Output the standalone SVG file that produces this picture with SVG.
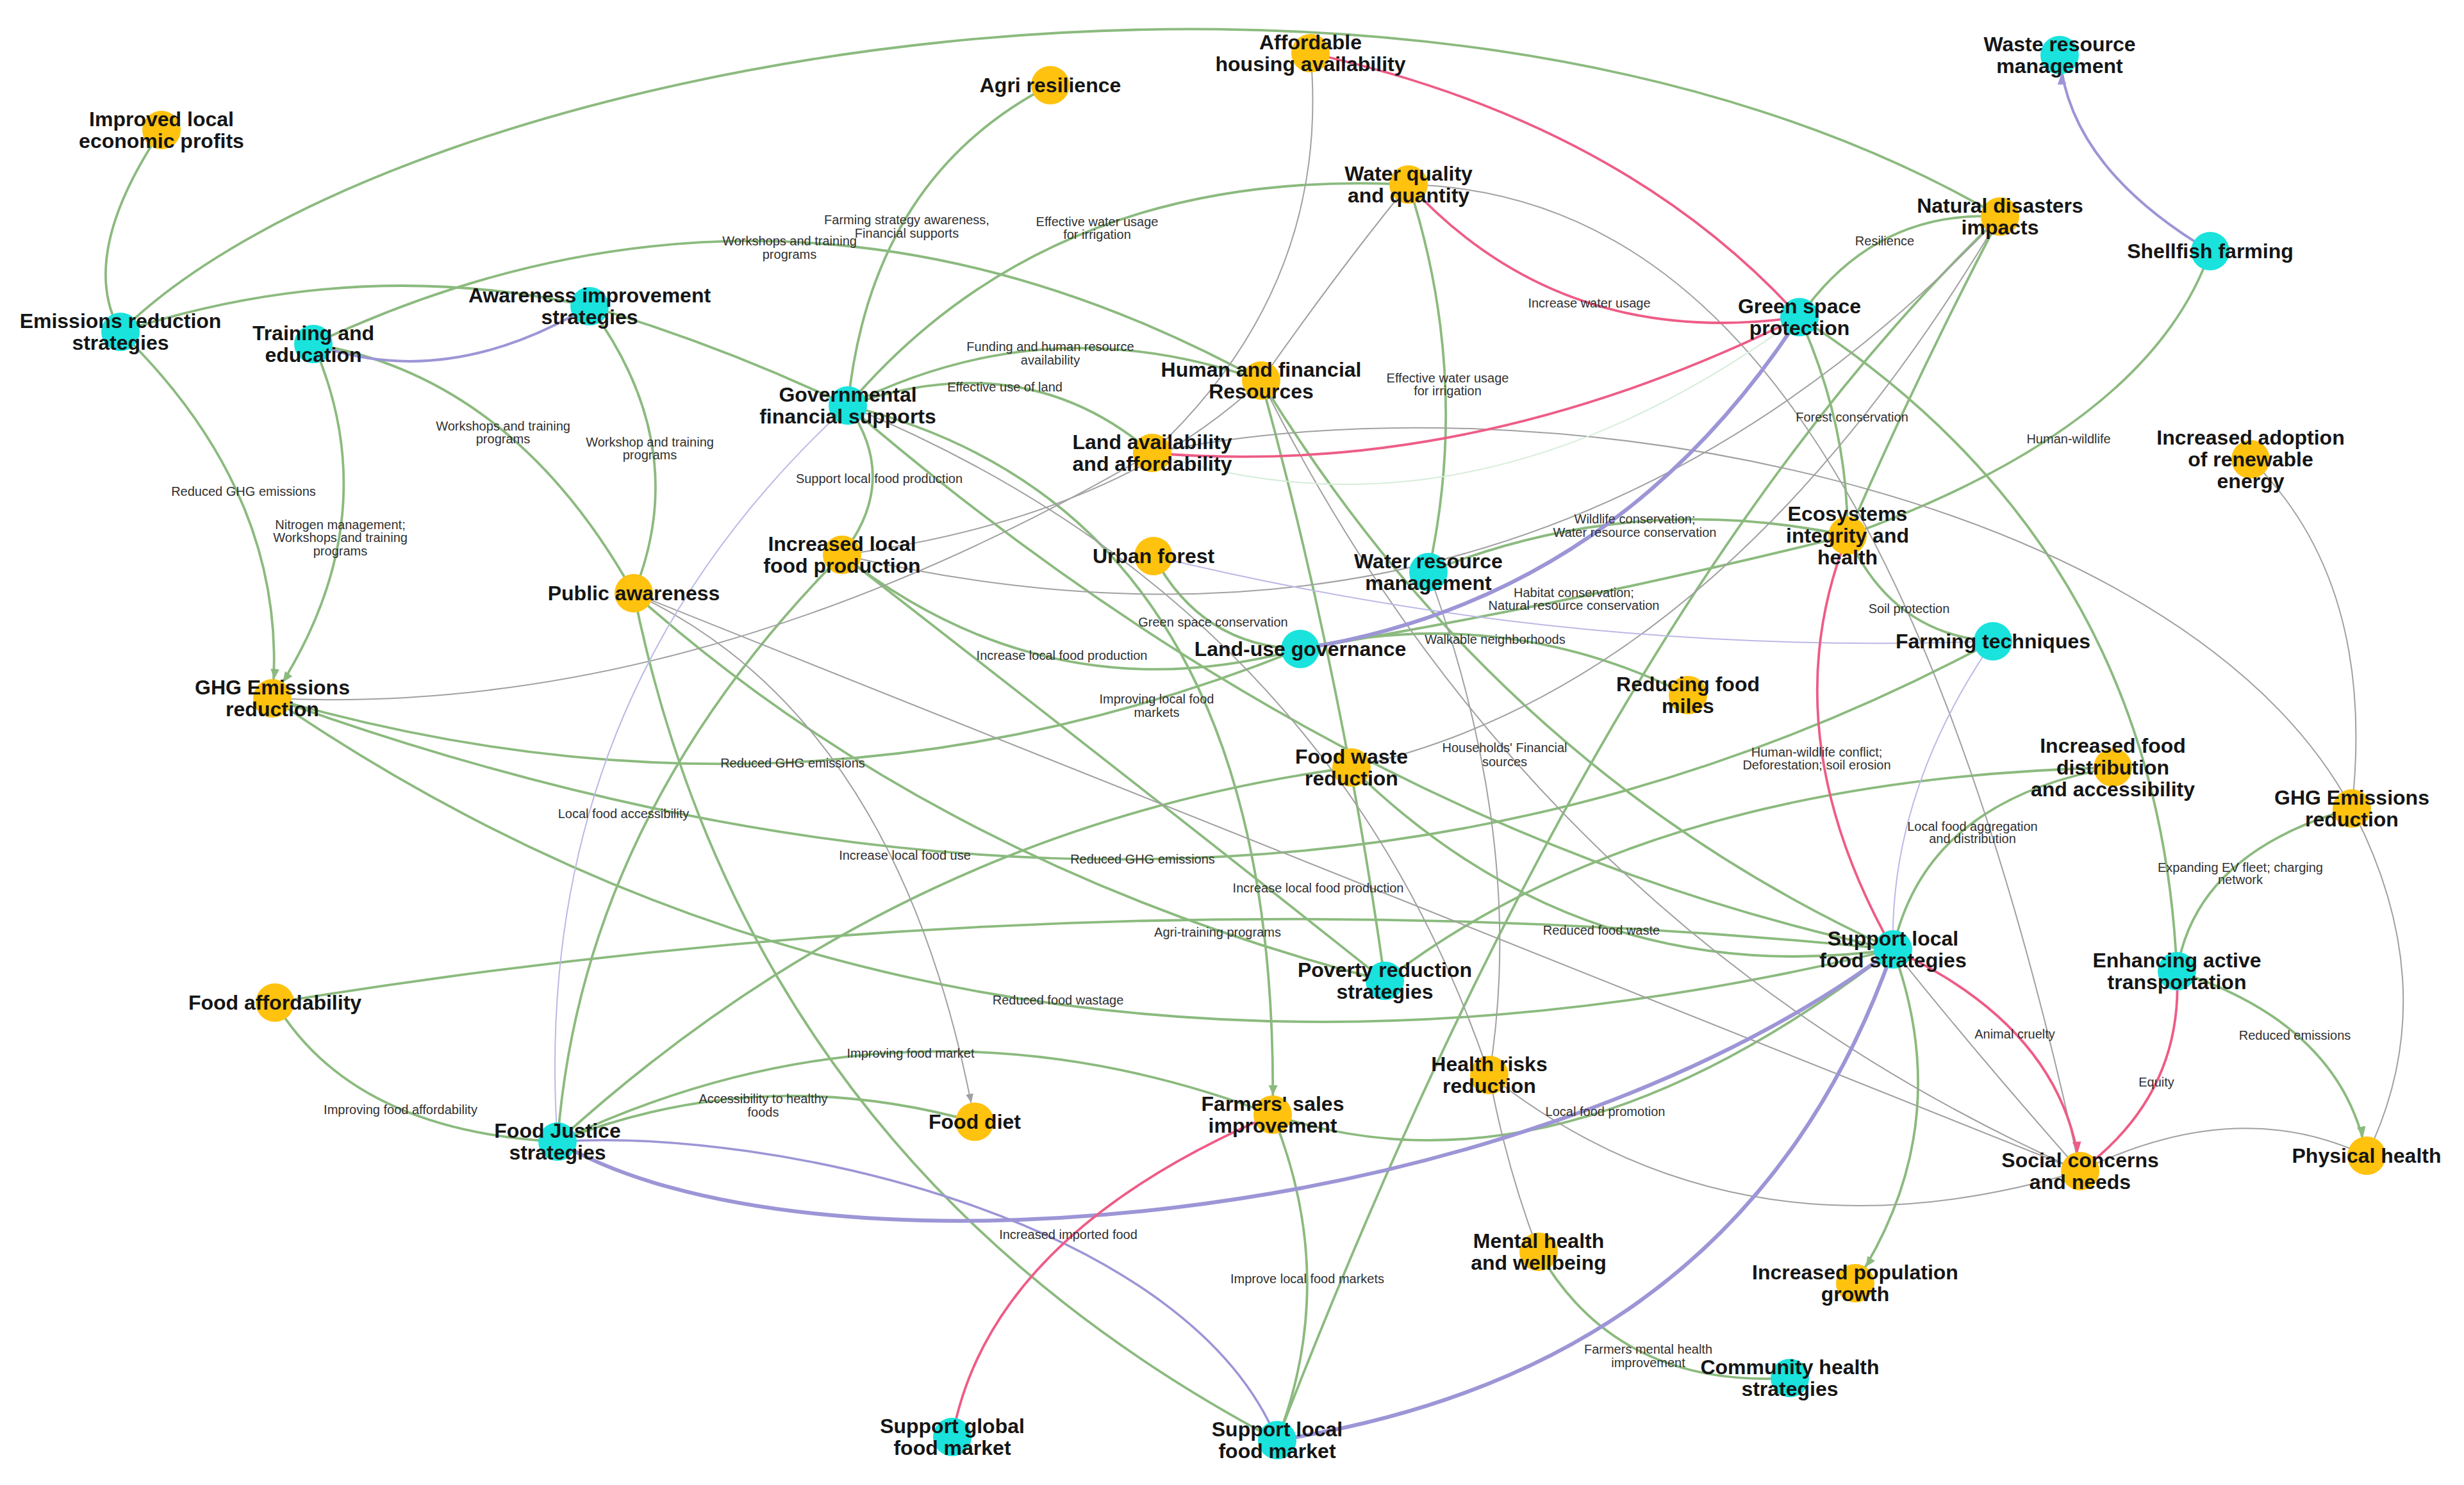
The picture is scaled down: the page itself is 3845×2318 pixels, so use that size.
<svg xmlns="http://www.w3.org/2000/svg" width="3845" height="2318" viewBox="0 0 3845 2318">
<defs>
<style>
.g{stroke:#8BBA7E;stroke-width:3.8;fill:none}
.y{stroke:#a0a0a0;stroke-width:2;fill:none}
.p{stroke:#EE5C86;stroke-width:3.8;fill:none}
.u{stroke:#9C95D6;fill:none}
.ul{stroke:#bcb8e6;stroke-width:2;fill:none}
.o{fill:#FFC20E}
.c{fill:#19E3DC}
.lbl{font-family:"Liberation Sans",Arial,sans-serif;font-weight:bold;font-size:32px;fill:#151515;text-anchor:middle}
.el{font-family:"Liberation Sans",Arial,sans-serif;font-size:20px;fill:#303030;text-anchor:middle}
</style>
<marker id="ag" markerUnits="userSpaceOnUse" markerWidth="60" markerHeight="20" refX="46" refY="7" orient="auto"><path d="M0,0 L16,7 L0,14 z" fill="#8BBA7E"/></marker>
<marker id="ay" markerUnits="userSpaceOnUse" markerWidth="60" markerHeight="20" refX="44" refY="6" orient="auto"><path d="M0,0 L14,6 L0,12 z" fill="#a0a0a0"/></marker>
<marker id="ap" markerUnits="userSpaceOnUse" markerWidth="60" markerHeight="20" refX="46" refY="7" orient="auto"><path d="M0,0 L16,7 L0,14 z" fill="#EE5C86"/></marker>
<marker id="au" markerUnits="userSpaceOnUse" markerWidth="60" markerHeight="20" refX="46" refY="7" orient="auto"><path d="M0,0 L16,7 L0,14 z" fill="#9C95D6"/></marker>
</defs>
<rect width="3845" height="2318" fill="#ffffff"/>
<g id="connectors">
<!-- green -->
<path class="g" d="M188,518 Q120,400 252,203"/>
<path class="g" d="M188,518 C620,90 2200,-200 3121,338"/>
<path class="g" d="M188,518 Q554,398 920,478"/>
<path class="g" d="M188,518 Q453,776 425,1090" marker-end="url(#ag)"/>
<path class="g" d="M489,537 Q1228,189 1968,594"/>
<path class="g" d="M489,537 Q609,813 425,1090" marker-end="url(#ag)"/>
<path class="g" d="M489,537 Q801,589 989,926"/>
<path class="g" d="M920,478 Q1082,698 989,926"/>
<path class="g" d="M920,478 Q1128,540 1323,633"/>
<path class="g" d="M1639,133 Q1359,277 1323,633"/>
<path class="g" d="M1323,633 Q1640,260 2198,288"/>
<path class="g" d="M1323,633 Q1634,476 1968,594"/>
<path class="g" d="M1323,633 Q1600,536 1798,707"/>
<path class="g" d="M1323,633 Q1405,750 1314,866"/>
<path class="g" d="M2198,288 Q2296,590 2229,893"/>
<path class="g" d="M3121,338 Q2925,327 2808,495"/>
<path class="g" d="M3449,392 Q3354,666 2883,836"/>
<path class="g" d="M2808,495 Q2884,664 2883,836"/>
<path class="g" d="M2808,495 Q3368,855 3397,1516"/>
<path class="g" d="M2883,836 Q2953,991 3110,1001"/>
<path class="g" d="M2029,1013 Q2444,945 2883,836"/>
<path class="g" d="M2229,893 Q2544,765 2883,836"/>
<path class="g" d="M2029,1013 Q2348,941 2634,1085"/>
<path class="g" d="M1800,868 Q1875,1009 2029,1013"/>
<path class="g" d="M1314,866 Q1638,1120 2029,1013"/>
<path class="g" d="M425,1090 Q1247,1328 2029,1013"/>
<path class="g" d="M1314,866 Q908,1276 870,1782"/>
<path class="g" d="M989,926 Q1169,1813 1993,2248"/>
<path class="g" d="M989,926 Q1465,1351 2161,1531"/>
<path class="g" d="M3121,338 Q2503,927 1993,2248"/>
<path class="g" d="M3121,338 Q2988,593 2883,836"/>
<path class="g" d="M2109,1198 Q2468,1550 2954,1482"/>
<path class="g" d="M870,1782 Q1410,1290 2109,1198"/>
<path class="g" d="M3110,1001 Q1932,1634 425,1090"/>
<path class="g" d="M3297,1198 Q3004,1250 2954,1482"/>
<path class="g" d="M3297,1198 Q2571,1215 2161,1531"/>
<path class="g" d="M429,1565 Q550,1766 870,1782"/>
<path class="g" d="M429,1565 Q1708,1356 2954,1482"/>
<path class="g" d="M425,1090 Q1510,1834 2954,1482"/>
<path class="g" d="M870,1782 Q1184,1657 1521,1751"/>
<path class="g" d="M870,1782 Q1414,1523 1986,1740"/>
<path class="g" d="M1986,1740 Q2090,1996 1993,2248"/>
<path class="g" d="M1986,1740 Q2430,1889 2954,1482"/>
<path class="g" d="M2401,1954 Q2523,2167 2793,2151"/>
<path class="g" d="M2954,1482 Q3055,1757 2895,2003" marker-end="url(#ag)"/>
<path class="g" d="M3670,1262 Q3426,1331 3397,1516"/>
<path class="g" d="M3397,1516 Q3655,1600 3693,1804" marker-end="url(#ag)"/>
<path class="g" d="M1323,633 Q2100,1300 2954,1482"/>
<path class="g" d="M1323,633 Q2000,800 1986,1740" marker-end="url(#ag)"/>
<path class="g" d="M1968,594 Q2339,1202 2954,1482"/>
<path class="g" d="M1968,594 Q2095,1057 2161,1531"/>
<path class="g" d="M1314,866 Q1822,1261 2161,1531"/>
<!-- gray -->
<path class="y" d="M2045,83 Q2078,445 1798,707"/>
<path class="y" d="M2198,288 Q2090,420 1968,594"/>
<path class="y" d="M1314,866 Q1739,810 1968,594"/>
<path class="y" d="M425,1090 Q1088,1121 1798,707"/>
<path class="y" d="M3121,338 Q2685,1072 2109,1198"/>
<path class="y" d="M3121,338 Q2382,1118 1314,866"/>
<path class="y" d="M2198,288 C2650,300 3000,700 3246,1828"/>
<path class="y" d="M1798,707 C2400,580 3400,760 3670,1262"/>
<path class="y" d="M3512,717 Q3709,910 3670,1262"/>
<path class="y" d="M3670,1262 Q3818,1547 3693,1804"/>
<path class="y" d="M3246,1828 Q3490,1708 3693,1804"/>
<path class="y" d="M2324,1678 Q2715,1987 3246,1828"/>
<path class="y" d="M2324,1678 Q2350,1820 2401,1954"/>
<path class="y" d="M2229,893 Q2383,1314 2324,1678"/>
<path class="y" d="M1323,633 Q2076,944 2324,1678"/>
<path class="y" d="M1968,594 Q2393,1449 3246,1828"/>
<path class="y" d="M2954,1482 Q3080,1640 3246,1828"/>
<path class="y" d="M989,926 Q1405,1121 1521,1751" marker-end="url(#ay)"/>
<path class="y" d="M989,926 Q1882,1283 3246,1828"/>
<!-- lavender thin -->
<path class="ul" d="M1323,633 Q823,1092 870,1782"/>
<path class="ul" d="M1800,868 Q2445,1025 3110,1001"/>
<path class="ul" d="M3110,1001 Q2948,1238 2954,1482"/>
<path d="M2808,495 Q2297,869 1798,707" fill="none" stroke="#d6ecd8" stroke-width="2"/>
<!-- purple -->
<path class="u" stroke-width="4" d="M3449,392 Q3228,261 3214,86" marker-end="url(#au)"/>
<path class="u" stroke-width="4" d="M489,537 Q695,612 920,478"/>
<path class="u" stroke-width="6" d="M2808,495 Q2521,936 2029,1013"/>
<path class="u" stroke-width="6" d="M870,1782 C1250,2010 2350,1930 2954,1482"/>
<path class="u" stroke-width="3.5" d="M870,1782 C1200,1760 1850,1900 1993,2248"/>
<path class="u" stroke-width="6" d="M2954,1482 Q2726,2135 1993,2248"/>
<!-- pink -->
<path class="p" d="M2045,83 Q2533,191 2808,495"/>
<path class="p" d="M2198,288 Q2437,548 2808,495"/>
<path class="p" d="M1798,707 Q2297,749 2808,495"/>
<path class="p" d="M2883,836 Q2761,1141 2954,1482"/>
<path class="p" d="M2954,1482 Q3220,1605 3246,1828" marker-end="url(#ap)"/>
<path class="p" d="M3397,1516 Q3408,1708 3246,1828"/>
<path class="p" d="M1986,1740 Q1544,1928 1486,2243"/>
</g>
<g id="edge-labels">
<text class="el" x="1232" y="383">Workshops and training</text><text class="el" x="1232" y="404">programs</text>
<text class="el" x="1415" y="350">Farming strategy awareness,</text><text class="el" x="1415" y="371">Financial supports</text>
<text class="el" x="1712" y="353">Effective water usage</text><text class="el" x="1712" y="373">for irrigation</text>
<text class="el" x="1639" y="548">Funding and human resource</text><text class="el" x="1639" y="569">availability</text>
<text class="el" x="1568" y="611">Effective use of land</text>
<text class="el" x="2480" y="480">Increase water usage</text>
<text class="el" x="2941" y="383">Resilience</text>
<text class="el" x="2259" y="597">Effective water usage</text><text class="el" x="2259" y="617">for irrigation</text>
<text class="el" x="2890" y="658">Forest conservation</text>
<text class="el" x="3228" y="692">Human-wildlife</text>
<text class="el" x="1372" y="754">Support local food production</text>
<text class="el" x="785" y="672">Workshops and training</text><text class="el" x="785" y="692">programs</text>
<text class="el" x="1014" y="697">Workshop and training</text><text class="el" x="1014" y="717">programs</text>
<text class="el" x="380" y="774">Reduced GHG emissions</text>
<text class="el" x="531" y="826">Nitrogen management;</text><text class="el" x="531" y="846">Workshops and training</text><text class="el" x="531" y="867">programs</text>
<text class="el" x="2551" y="817">Wildlife conservation;</text><text class="el" x="2551" y="838">Water resource conservation</text>
<text class="el" x="2456" y="932">Habitat conservation;</text><text class="el" x="2456" y="952">Natural resource conservation</text>
<text class="el" x="1893" y="978">Green space conservation</text>
<text class="el" x="2333" y="1005">Walkable neighborhoods</text>
<text class="el" x="2979" y="957">Soil protection</text>
<text class="el" x="1657" y="1030">Increase local food production</text>
<text class="el" x="1805" y="1098">Improving local food</text><text class="el" x="1805" y="1119">markets</text>
<text class="el" x="2348" y="1174">Households' Financial</text><text class="el" x="2348" y="1196">sources</text>
<text class="el" x="2835" y="1181">Human-wildlife conflict;</text><text class="el" x="2835" y="1201">Deforestation; soil erosion</text>
<text class="el" x="1237" y="1198">Reduced GHG emissions</text>
<text class="el" x="973" y="1277">Local food accessibility</text>
<text class="el" x="3078" y="1297">Local food aggregation</text><text class="el" x="3078" y="1316">and distribution</text>
<text class="el" x="1412" y="1342">Increase local food use</text>
<text class="el" x="1783" y="1348">Reduced GHG emissions</text>
<text class="el" x="3496" y="1361">Expanding EV fleet; charging</text><text class="el" x="3496" y="1380">network</text>
<text class="el" x="2057" y="1393">Increase local food production</text>
<text class="el" x="1900" y="1462">Agri-training programs</text>
<text class="el" x="2499" y="1459">Reduced food waste</text>
<text class="el" x="1651" y="1568">Reduced food wastage</text>
<text class="el" x="3144" y="1621">Animal cruelty</text>
<text class="el" x="3581" y="1623">Reduced emissions</text>
<text class="el" x="1421" y="1651">Improving food market</text>
<text class="el" x="3365" y="1696">Equity</text>
<text class="el" x="625" y="1739">Improving food affordability</text>
<text class="el" x="1191" y="1722">Accessibility to healthy</text><text class="el" x="1191" y="1743">foods</text>
<text class="el" x="2505" y="1742">Local food promotion</text>
<text class="el" x="1667" y="1934">Increased imported food</text>
<text class="el" x="2040" y="2003">Improve local food markets</text>
<text class="el" x="2572" y="2113">Farmers mental health</text><text class="el" x="2572" y="2134">improvement</text>
</g>
<g id="nodes">
<g id="n-improved"><circle class="o" cx="252" cy="203" r="30"/><text class="lbl" x="252" y="197">Improved local</text><text class="lbl" x="252" y="231">economic profits</text></g>
<g id="n-emis"><circle class="c" cx="188" cy="518" r="30"/><text class="lbl" x="188" y="512">Emissions reduction</text><text class="lbl" x="188" y="546">strategies</text></g>
<g id="n-training"><circle class="c" cx="489" cy="537" r="30"/><text class="lbl" x="489" y="531">Training and</text><text class="lbl" x="489" y="565">education</text></g>
<g id="n-aware"><circle class="c" cx="920" cy="478" r="30"/><text class="lbl" x="920" y="472">Awareness improvement</text><text class="lbl" x="920" y="506">strategies</text></g>
<g id="n-agri"><circle class="o" cx="1639" cy="133" r="30"/><text class="lbl" x="1639" y="144">Agri resilience</text></g>
<g id="n-housing"><circle class="o" cx="2045" cy="83" r="30"/><text class="lbl" x="2045" y="77">Affordable</text><text class="lbl" x="2045" y="111">housing availability</text></g>
<g id="n-waste"><circle class="c" cx="3214" cy="86" r="30"/><text class="lbl" x="3214" y="80">Waste resource</text><text class="lbl" x="3214" y="114">management</text></g>
<g id="n-waterq"><circle class="o" cx="2198" cy="288" r="30"/><text class="lbl" x="2198" y="282">Water quality</text><text class="lbl" x="2198" y="316">and quantity</text></g>
<g id="n-natdis"><circle class="o" cx="3121" cy="338" r="30"/><text class="lbl" x="3121" y="332">Natural disasters</text><text class="lbl" x="3121" y="366">impacts</text></g>
<g id="n-shellfish"><circle class="c" cx="3449" cy="392" r="30"/><text class="lbl" x="3449" y="403">Shellfish farming</text></g>
<g id="n-green"><circle class="c" cx="2808" cy="495" r="30"/><text class="lbl" x="2808" y="489">Green space</text><text class="lbl" x="2808" y="523">protection</text></g>
<g id="n-human"><circle class="o" cx="1968" cy="594" r="30"/><text class="lbl" x="1968" y="588">Human and financial</text><text class="lbl" x="1968" y="622">Resources</text></g>
<g id="n-gov"><circle class="c" cx="1323" cy="633" r="30"/><text class="lbl" x="1323" y="627">Governmental</text><text class="lbl" x="1323" y="661">financial supports</text></g>
<g id="n-land"><circle class="o" cx="1798" cy="707" r="30"/><text class="lbl" x="1798" y="701">Land availability</text><text class="lbl" x="1798" y="735">and affordability</text></g>
<g id="n-renew"><circle class="o" cx="3512" cy="717" r="30"/><text class="lbl" x="3512" y="694">Increased adoption</text><text class="lbl" x="3512" y="728">of renewable</text><text class="lbl" x="3512" y="762">energy</text></g>
<g id="n-eco"><circle class="o" cx="2883" cy="836" r="30"/><text class="lbl" x="2883" y="813">Ecosystems</text><text class="lbl" x="2883" y="847">integrity and</text><text class="lbl" x="2883" y="881">health</text></g>
<g id="n-ilfp"><circle class="o" cx="1314" cy="866" r="30"/><text class="lbl" x="1314" y="860">Increased local</text><text class="lbl" x="1314" y="894">food production</text></g>
<g id="n-urban"><circle class="o" cx="1800" cy="868" r="30"/><text class="lbl" x="1800" y="879">Urban forest</text></g>
<g id="n-wrm"><circle class="c" cx="2229" cy="893" r="30"/><text class="lbl" x="2229" y="887">Water resource</text><text class="lbl" x="2229" y="921">management</text></g>
<g id="n-public"><circle class="o" cx="989" cy="926" r="30"/><text class="lbl" x="989" y="937">Public awareness</text></g>
<g id="n-landuse"><circle class="c" cx="2029" cy="1013" r="30"/><text class="lbl" x="2029" y="1024">Land-use governance</text></g>
<g id="n-farming"><circle class="c" cx="3110" cy="1001" r="30"/><text class="lbl" x="3110" y="1012">Farming techniques</text></g>
<g id="n-ghgL"><circle class="o" cx="425" cy="1090" r="30"/><text class="lbl" x="425" y="1084">GHG Emissions</text><text class="lbl" x="425" y="1118">reduction</text></g>
<g id="n-miles"><circle class="o" cx="2634" cy="1085" r="30"/><text class="lbl" x="2634" y="1079">Reducing food</text><text class="lbl" x="2634" y="1113">miles</text></g>
<g id="n-foodwaste"><circle class="o" cx="2109" cy="1198" r="30"/><text class="lbl" x="2109" y="1192">Food waste</text><text class="lbl" x="2109" y="1226">reduction</text></g>
<g id="n-dist"><circle class="o" cx="3297" cy="1198" r="30"/><text class="lbl" x="3297" y="1175">Increased food</text><text class="lbl" x="3297" y="1209">distribution</text><text class="lbl" x="3297" y="1243">and accessibility</text></g>
<g id="n-ghgR"><circle class="o" cx="3670" cy="1262" r="30"/><text class="lbl" x="3670" y="1256">GHG Emissions</text><text class="lbl" x="3670" y="1290">reduction</text></g>
<g id="n-slfs"><circle class="c" cx="2954" cy="1482" r="30"/><text class="lbl" x="2954" y="1476">Support local</text><text class="lbl" x="2954" y="1510">food strategies</text></g>
<g id="n-active"><circle class="c" cx="3397" cy="1516" r="30"/><text class="lbl" x="3397" y="1510">Enhancing active</text><text class="lbl" x="3397" y="1544">transportation</text></g>
<g id="n-poverty"><circle class="c" cx="2161" cy="1531" r="30"/><text class="lbl" x="2161" y="1525">Poverty reduction</text><text class="lbl" x="2161" y="1559">strategies</text></g>
<g id="n-afford"><circle class="o" cx="429" cy="1565" r="30"/><text class="lbl" x="429" y="1576">Food affordability</text></g>
<g id="n-health"><circle class="o" cx="2324" cy="1678" r="30"/><text class="lbl" x="2324" y="1672">Health risks</text><text class="lbl" x="2324" y="1706">reduction</text></g>
<g id="n-diet"><circle class="o" cx="1521" cy="1751" r="30"/><text class="lbl" x="1521" y="1762">Food diet</text></g>
<g id="n-farmers"><circle class="o" cx="1986" cy="1740" r="30"/><text class="lbl" x="1986" y="1734">Farmers' sales</text><text class="lbl" x="1986" y="1768">improvement</text></g>
<g id="n-justice"><circle class="c" cx="870" cy="1782" r="30"/><text class="lbl" x="870" y="1776">Food Justice</text><text class="lbl" x="870" y="1810">strategies</text></g>
<g id="n-social"><circle class="o" cx="3246" cy="1828" r="30"/><text class="lbl" x="3246" y="1822">Social concerns</text><text class="lbl" x="3246" y="1856">and needs</text></g>
<g id="n-physical"><circle class="o" cx="3693" cy="1804" r="30"/><text class="lbl" x="3693" y="1815">Physical health</text></g>
<g id="n-mental"><circle class="o" cx="2401" cy="1954" r="30"/><text class="lbl" x="2401" y="1948">Mental health</text><text class="lbl" x="2401" y="1982">and wellbeing</text></g>
<g id="n-pop"><circle class="o" cx="2895" cy="2003" r="30"/><text class="lbl" x="2895" y="1997">Increased population</text><text class="lbl" x="2895" y="2031">growth</text></g>
<g id="n-community"><circle class="c" cx="2793" cy="2151" r="30"/><text class="lbl" x="2793" y="2145">Community health</text><text class="lbl" x="2793" y="2179">strategies</text></g>
<g id="n-global"><circle class="c" cx="1486" cy="2243" r="30"/><text class="lbl" x="1486" y="2237">Support global</text><text class="lbl" x="1486" y="2271">food market</text></g>
<g id="n-slfm"><circle class="c" cx="1993" cy="2248" r="30"/><text class="lbl" x="1993" y="2242">Support local</text><text class="lbl" x="1993" y="2276">food market</text></g>
</g>
</svg>
